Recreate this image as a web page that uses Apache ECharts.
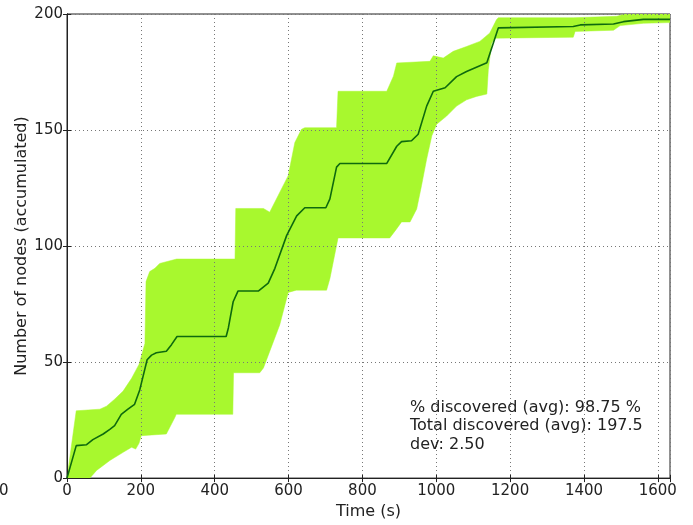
<!DOCTYPE html>
<html>
<head>
<meta charset="utf-8">
<script src="https://cdn.jsdelivr.net/npm/echarts@6/dist/echarts.min.js"></script>
<style>html,body{margin:0;padding:0;background:#fff}#c{width:693px;height:525px}</style>
</head>
<body>
<div id="c"></div>
<script>
// ---- data (time in s, nodes accumulated) ----
var meanPoints = [[0,0],[25,14],[53,14.4],[70,16.6],[98,19],[116,21],[129,22.6],[147,27.5],[165,29.7],[183,31.8],[197,38],[217,51],[229,53],[242,54],[269,54.7],[283,57.5],[298,61],[431,61],[437,64.7],[450,76],[463,80.6],[518,80.6],[545,84],[563,90.4],[595,104.6],[622,113],[644,116.5],[701,116.5],[712,120.3],[730,134],[739,135.6],[866,135.6],[893,143],[906,145],[933,145.4],[951,148.2],[974,160.3],[992,166.7],[1024,168.2],[1055,173],[1082,175.2],[1137,179],[1168,194],[1371,194.6],[1390,195.3],[1480,195.7],[1507,196.7],[1561,197.7],[1633,197.7]];
var upperPoints = [[0,0],[25,29],[89,29.7],[107,31],[129,34],[152,37.5],[175,43],[195,49],[211,58],[214,84.7],[224,89],[238,90.4],[251,92.5],[297,94.4],[455,94.4],[457,116.2],[532,116.2],[549,114.6],[599,130.3],[617,144.6],[635,150.3],[644,151],[730,151],[734,166.7],[866,166.7],[884,173.2],[893,178.9],[983,179.6],[992,182],[1019,181],[1046,183.9],[1082,186],[1118,188.2],[1145,191.8],[1163,197.5],[1168,198.4],[1371,198.4],[1489,199],[1511,200],[1633,200]];
var lowerPoints = [[0,0],[62,0],[80,3.3],[116,7.6],[152,11.1],[175,13.3],[186,12.5],[195,15],[201,18.3],[269,19],[292,26.1],[296,27.5],[449,27.5],[451,45.4],[522,45.4],[532,47.5],[576,66],[599,80],[621,81],[703,81],[712,86],[734,103.5],[874,103.5],[893,107.5],[906,110.4],[929,110.4],[947,116],[960,126],[974,137.5],[988,147.5],[1001,152.5],[1028,156],[1055,160.3],[1082,163],[1109,164.5],[1137,165.5],[1141,176],[1150,187.4],[1159,189.6],[1371,190],[1376,192.5],[1480,193],[1498,195],[1561,196],[1633,196.3]];
var annotationLines = ['% discovered (avg): 98.75 %', 'Total discovered (avg): 197.5', 'dev: 2.50'];
var xMax = 1633, yMax = 200;

var FONT = 'DejaVu Sans';
var chart = echarts.init(document.getElementById('c'), null, {renderer: 'canvas'});
var gridDot = {show: true, lineStyle: {color: '#777', width: 1, type: [1, 3]}};
chart.setOption({
  animation: false,
  backgroundColor: '#fff',
  grid: {left: 67, right: 23, top: 14, bottom: 44, show: true, borderColor: '#222', borderWidth: 1, backgroundColor: 'transparent'},
  xAxis: [{
    type: 'value', min: 0, max: xMax, interval: 200, position: 'bottom',
    name: 'Time (s)', nameLocation: 'middle', nameGap: 21,
    nameTextStyle: {fontFamily: FONT, fontSize: 16, color: '#222'},
    axisLine: {show: true, lineStyle: {color: '#222', width: 1}},
    axisTick: {show: true, inside: true, length: 4, lineStyle: {color: '#222'}},
    axisLabel: {fontFamily: FONT, fontSize: 15, color: '#222', margin: 6,
      formatter: function (v) { return v % 200 === 0 ? String(v) : ''; }},
    splitLine: {show: false}
  }, {
    type: 'value', min: 0, max: xMax, interval: 200, position: 'top', z: 5,
    axisLine: {show: true, lineStyle: {color: '#222', width: 1}},
    axisTick: {show: true, inside: true, length: 4, lineStyle: {color: '#222'}},
    axisLabel: {show: false},
    splitLine: gridDot
  }],
  yAxis: [{
    type: 'value', min: 0, max: yMax, interval: 50, position: 'left',
    name: 'Number of nodes (accumulated)', nameLocation: 'middle', nameGap: 37,
    nameMoveOverlap: false,
    nameTextStyle: {fontFamily: FONT, fontSize: 16, color: '#222'},
    axisLine: {show: true, lineStyle: {color: '#222', width: 1}},
    axisTick: {show: true, inside: true, length: 4, lineStyle: {color: '#222'}},
    axisLabel: {fontFamily: FONT, fontSize: 15, color: '#222', margin: 4},
    splitLine: {show: false}
  }, {
    type: 'value', min: 0, max: yMax, interval: 50, position: 'right', z: 5,
    axisLine: {show: true, lineStyle: {color: '#222', width: 1}},
    axisTick: {show: true, inside: true, length: 4, lineStyle: {color: '#222'}},
    axisLabel: {show: false},
    splitLine: gridDot
  }],
  graphic: [{
    type: 'text', left: 410, top: 398, z: 20,
    style: {text: annotationLines.join('\n'), font: '16px "DejaVu Sans"', fill: '#222', lineHeight: 18.8}
  }, {
    type: 'text', left: -1, top: 484, z: 20,
    style: {text: '0', font: '15px "DejaVu Sans"', fill: '#222'}
  }],
  series: [{
    type: 'custom',
    coordinateSystem: 'cartesian2d',
    xAxisIndex: 0, yAxisIndex: 0,
    clip: true, z: 1, silent: true,
    data: [[0, 0]],
    renderItem: function (params, api) {
      var pts = [];
      upperPoints.forEach(function (p) { pts.push(api.coord(p)); });
      for (var i = lowerPoints.length - 1; i >= 0; i--) pts.push(api.coord(lowerPoints[i]));
      return {type: 'polygon', shape: {points: pts}, style: {fill: '#a8f82e', stroke: '#a8f82e', lineWidth: 0.5}};
    }
  }, {
    type: 'line', xAxisIndex: 0, yAxisIndex: 0, z: 10,
    data: meanPoints, showSymbol: false, symbol: 'none',
    lineStyle: {color: '#0e6a0e', width: 1.6}
  }]
});
</script>
</body>
</html>
